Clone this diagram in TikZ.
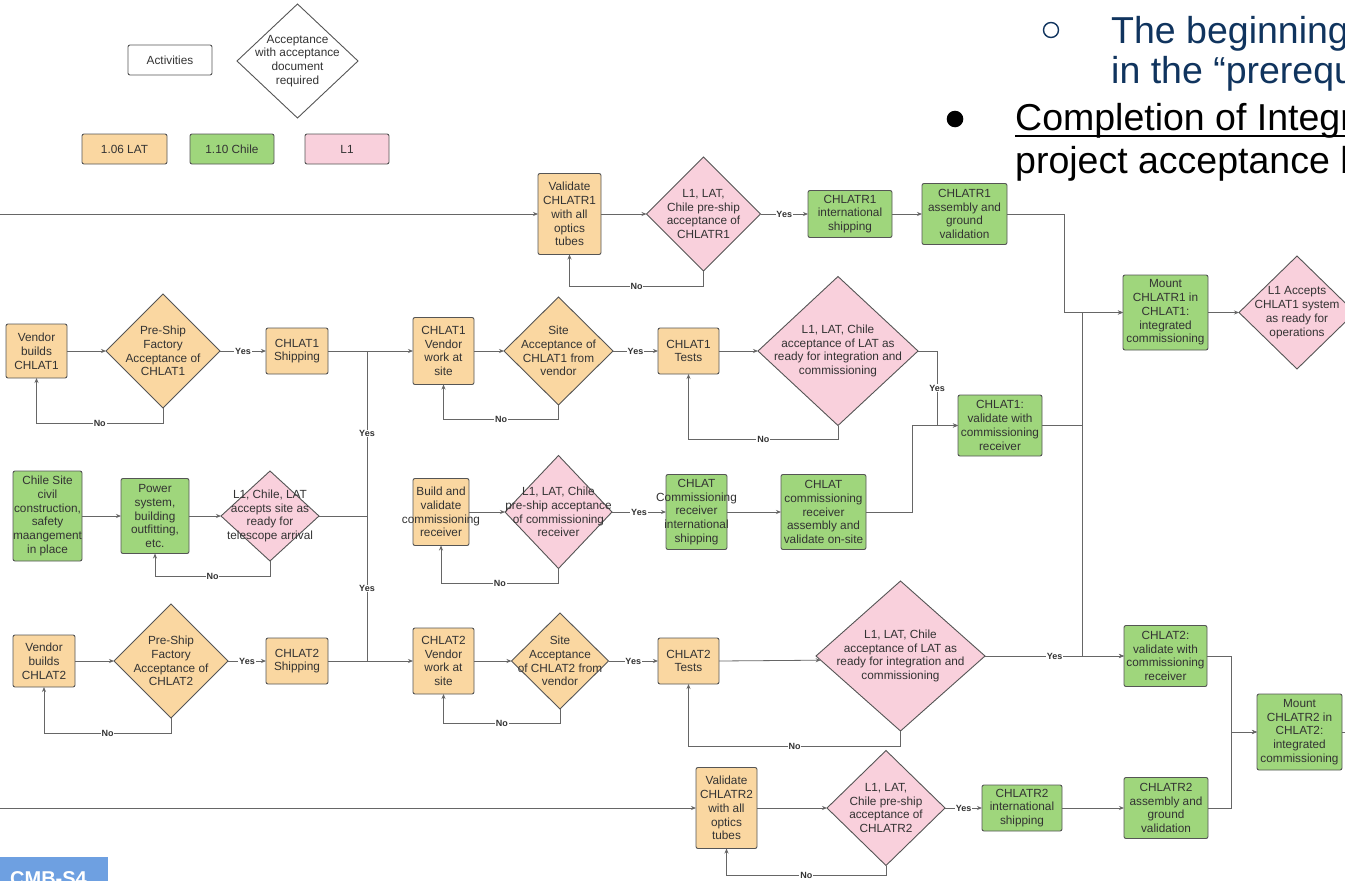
\documentclass[tikz,border=0pt]{standalone}
\usepackage{fontspec}
\setmainfont{Liberation Sans}
\usetikzlibrary{shapes.geometric,arrows.meta}
\definecolor{ornc}{HTML}{FAD7A1}
\definecolor{grnc}{HTML}{9FD67C}
\definecolor{pnkc}{HTML}{F9D0DC}
\definecolor{bordc}{HTML}{555555}
\definecolor{linc}{HTML}{666666}
\definecolor{txtc}{HTML}{333333}
\definecolor{navyc}{RGB}{16,52,94}
\definecolor{logoc}{RGB}{110,160,225}
\begin{document}
\begin{tikzpicture}[x=1pt,y=-1pt,
  shp/.style={draw=bordc, line width=0.9pt, inner sep=0pt, outer sep=0pt},
  rb/.style={shp, rectangle, rounded corners=2pt},
  dm/.style={shp, diamond},
  tx/.style={font=\fontsize{11.8}{13.8}\selectfont, text=txtc, align=center, inner sep=0pt},
  wh/.style 2 args={minimum width=#1, minimum height=#2},
  orn/.style={fill=ornc}, grn/.style={fill=grnc}, pnk/.style={fill=pnkc},
  ln/.style={draw=linc, line width=0.8pt},
  arr/.style={ln, -{Stealth[length=5pt,width=4pt]}},
  lb/.style={fill=white, inner sep=0.8pt, font=\fontsize{9}{10}\selectfont\bfseries, text=txtc},
  slide/.style={anchor=base west, inner sep=0pt, font=\fontsize{37.5}{40}\selectfont}
]
\useasboundingbox (0,0) rectangle (1345,881);
\clip (0,0) rectangle (1345,881);
\fill[white] (0,0) rectangle (1345,881);

% ---------- slide text ----------
\draw[navyc, line width=1.4pt] (1051,30) circle (7.5);
\node[slide, text=navyc] (s1) at (1111,43) {The beginning};
\node[slide, text=navyc] (s2) at (1111,83) {in the “prerequ};
\fill[black] (955,119) circle (8.3);
\node[slide, text=black] (s3) at (1015,130) {Completion of Integr};
\draw[black, line width=2pt] (1015,135.5) -- (1345,135.5);
\node[slide, text=black] (s4) at (1015,173) {project acceptance b};

% ---------- logo ----------
\fill[logoc] (0,857) rectangle (108,881);
\node[anchor=base west, inner sep=0pt, text=white, font=\fontsize{20}{22}\selectfont\bfseries] (logo) at (10,885) {CMB-S4};

% ---------- legend ----------
\node[rb, fill=white, wh={84}{30}, label={[tx]center:Activities}] (act) at (170,60) {};
\node[dm, fill=white, wh={121}{114}, label={[tx]center:{Acceptance\\with acceptance\\document\\required}}] (accd) at (297.5,61) {};
\node[rb, orn, wh={85}{30}, label={[tx]center:1.06 LAT}] (lg1) at (124.5,149) {};
\node[rb, grn, wh={84}{30}, label={[tx]center:1.10 Chile}] (lg2) at (232,149) {};
\node[rb, pnk, wh={84}{30}, label={[tx]center:L1}] (lg3) at (347,149) {};

% ---------- CHLATR1 row ----------
\node[rb, orn, wh={63}{81}, label={[tx]center:{Validate\\CHLATR1\\with all\\optics\\tubes}}] (vr1) at (569.5,214) {};
\node[dm, pnk, wh={114}{114}, label={[tx]center:{L1, LAT,\\Chile pre-ship\\acceptance of\\CHLATR1}}] (dr1) at (703.5,214) {};
\node[rb, grn, wh={84}{47}, label={[tx]center:{CHLATR1\\international\\shipping}}] (sr1) at (850,214) {};
\node[rb, grn, wh={85}{61}, label={[tx]center:{CHLATR1\\assembly and\\ground\\validation}}] (ar1) at (964.5,214) {};
\node[rb, grn, wh={85}{75}, label={[tx]center:{Mount\\CHLATR1 in\\CHLAT1:\\integrated\\commissioning}}] (mr1) at (1165.5,312.5) {};
\node[dm, pnk, wh={116}{113}, label={[tx]center:{L1 Accepts\\CHLAT1 system\\as ready for\\operations}}] (ops) at (1297,312.5) {};

% ---------- CHLAT1 row ----------
\node[rb, orn, wh={61}{54}, label={[tx]center:{Vendor\\builds\\CHLAT1}}] (vb1) at (36.5,351) {};
\node[dm, orn, wh={114}{114}, label={[tx]center:{Pre-Ship\\Factory\\Acceptance of\\CHLAT1}}] (pf1) at (163,351) {};
\node[rb, orn, wh={62}{46}, label={[tx]center:{CHLAT1\\Shipping}}] (sh1) at (297,351) {};
\node[rb, orn, wh={61}{67}, label={[tx]center:{CHLAT1\\Vendor\\work at\\site}}] (vw1) at (443.5,351) {};
\node[dm, orn, wh={109}{108}, label={[tx]center:{Site\\Acceptance of\\CHLAT1 from\\vendor}}] (sa1) at (558.5,351) {};
\node[rb, orn, wh={61}{46}, label={[tx]center:{CHLAT1\\Tests}}] (ts1) at (688.5,351) {};
\node[dm, pnk, wh={160}{149}, label={[tx]center:{L1, LAT, Chile\\acceptance of LAT as\\ready for integration and\\commissioning}}] (la1) at (838,351) {};
\node[rb, grn, wh={84}{61}, label={[tx]center:{CHLAT1:\\validate with\\commissioning\\receiver}}] (cv1) at (1000,425.5) {};

% ---------- site row ----------
\node[rb, grn, wh={69}{90}, label={[tx]center:{Chile Site\\civil\\construction,\\safety\\maangement\\in place}}] (cs) at (47.5,516) {};
\node[rb, grn, wh={68}{75}, label={[tx]center:{Power\\system,\\building\\outfitting,\\etc.}}] (ps) at (155,516) {};
\node[dm, pnk, wh={98}{90}, label={[tx]center:{L1, Chile, LAT\\accepts site as\\ready for\\telescope arrival}}] (sd) at (270,516) {};

% ---------- commissioning receiver row ----------
\node[rb, orn, wh={56}{67}, label={[tx]center:{Build and\\validate\\commissioning\\receiver}}] (bv) at (441,512) {};
\node[dm, pnk, wh={107}{113}, label={[tx]center:{L1, LAT, Chile\\pre-ship acceptance\\of commissioning\\receiver}}] (cd) at (558.5,512) {};
\node[rb, grn, wh={61}{75}, label={[tx]center:{CHLAT\\Commissioning\\receiver\\international\\shipping}}] (cis) at (696.5,512) {};
\node[rb, grn, wh={85}{75}, label={[tx]center:{CHLAT\\commissioning\\receiver\\assembly and\\validate on-site}}] (cav) at (823.5,512) {};

% ---------- CHLAT2 row ----------
\node[rb, orn, wh={62}{52}, label={[tx]center:{Vendor\\builds\\CHLAT2}}] (vb2) at (44,661) {};
\node[dm, orn, wh={114}{114}, label={[tx]center:{Pre-Ship\\Factory\\Acceptance of\\CHLAT2}}] (pf2) at (171,661) {};
\node[rb, orn, wh={62}{46}, label={[tx]center:{CHLAT2\\Shipping}}] (sh2) at (297,661) {};
\node[rb, orn, wh={61}{66}, label={[tx]center:{CHLAT2\\Vendor\\work at\\site}}] (vw2) at (443.5,661) {};
\node[dm, orn, wh={97}{96}, label={[tx]center:{Site\\Acceptance\\of CHLAT2 from\\vendor}}] (sa2) at (560,661) {};
\node[rb, orn, wh={61}{46}, label={[tx]center:{CHLAT2\\Tests}}] (ts2) at (688.5,661) {};
\node[dm, pnk, wh={169}{150}, label={[tx]center:{L1, LAT, Chile\\acceptance of LAT as\\ready for integration and\\commissioning}}] (la2) at (900.5,656) {};
\node[rb, grn, wh={83}{61}, label={[tx]center:{CHLAT2:\\validate with\\commissioning\\receiver}}] (cv2) at (1165.5,656) {};
\node[rb, grn, wh={85}{76}, label={[tx]center:{Mount\\CHLATR2 in\\CHLAT2:\\integrated\\commissioning}}] (mr2) at (1299.5,732) {};

% ---------- CHLATR2 row ----------
\node[rb, orn, wh={61}{81}, label={[tx]center:{Validate\\CHLATR2\\with all\\optics\\tubes}}] (vr2) at (726.5,808) {};
\node[dm, pnk, wh={118}{115}, label={[tx]center:{L1, LAT,\\Chile pre-ship\\acceptance of\\CHLATR2}}] (dr2) at (886,808) {};
\node[rb, grn, wh={80}{46}, label={[tx]center:{CHLATR2\\international\\shipping}}] (sr2) at (1022,808) {};
\node[rb, grn, wh={84}{61}, label={[tx]center:{CHLATR2\\assembly and\\ground\\validation}}] (ar2) at (1166,808) {};

% ---------- free ends and junctions ----------
\coordinate (inR1) at (0,214);
\coordinate (inR2) at (0,808);
\coordinate (outR2) at (1345,732);
\coordinate (jy) at (367,516);
\coordinate (ju) at (367,351);
\coordinate (jd) at (367,661);
\coordinate (j1) at (1082.5,425.5);

% ---------- connectors: CHLATR1 ----------
\draw[arr] (inR1) -- (vr1.west);
\draw[arr] (vr1.east) -- (dr1.west);
\draw[arr] (dr1.south) -- ++(0,15) -| node[lb,pos=0.25]{No} (vr1.south);
\draw[arr] (dr1.east) -- node[lb]{Yes} (sr1.west);
\draw[arr] (sr1.east) -- (ar1.west);
\draw[arr] (ar1.east) -- ++(57,0) |- (mr1.west);
\draw[arr] (mr1.east) -- (ops.west);

% ---------- connectors: CHLAT1 ----------
\draw[arr] (vb1.east) -- (pf1.west);
\draw[arr] (pf1.south) -- ++(0,15) -| node[lb,pos=0.25]{No} (vb1.south);
\draw[arr] (pf1.east) -- node[lb]{Yes} (sh1.west);
\draw[arr] (sh1.east) -- (vw1.west);
\draw[arr] (vw1.east) -- (sa1.west);
\draw[arr] (sa1.south) -- ++(0,14) -| node[lb,pos=0.25]{No} (vw1.south);
\draw[arr] (sa1.east) -- node[lb]{Yes} (ts1.west);
\draw[arr] (ts1.east) -- (la1.west);
\draw[arr] (la1.south) -- ++(0,14) -| node[lb,pos=0.25]{No} (ts1.south);
\draw[arr] (la1.east) -- ++(19,0) |- node[lb,pos=0.25]{Yes} (cv1.west);
\draw[arr] (cav.east) -- ++(46,0) |- (cv1.west);
\draw[ln] (cv1.east) -- (j1);
\draw[arr] (j1) |- (mr1.west);
\draw[arr] (j1) |- (cv2.west);

% ---------- connectors: site ----------
\draw[arr] (cs.east) -- (ps.west);
\draw[arr] (ps.east) -- (sd.west);
\draw[arr] (sd.south) -- ++(0,15) -| node[lb,pos=0.25]{No} (ps.south);
\draw[ln] (sd.east) -- (jy);
\draw[ln] (jy) -- node[lb]{Yes} (ju);
\draw[ln] (jy) -- node[lb]{Yes} (jd);

% ---------- connectors: commissioning receiver ----------
\draw[arr] (bv.east) -- (cd.west);
\draw[arr] (cd.south) -- ++(0,15) -| node[lb,pos=0.25]{No} (bv.south);
\draw[arr] (cd.east) -- node[lb]{Yes} (cis.west);
\draw[arr] (cis.east) -- (cav.west);

% ---------- connectors: CHLAT2 ----------
\draw[arr] (vb2.east) -- (pf2.west);
\draw[arr] (pf2.south) -- ++(0,15) -| node[lb,pos=0.25]{No} (vb2.south);
\draw[arr] (pf2.east) -- node[lb]{Yes} (sh2.west);
\draw[arr] (sh2.east) -- (vw2.west);
\draw[arr] (vw2.east) -- (sa2.west);
\draw[arr] (sa2.south) -- ++(0,14) -| node[lb,pos=0.25]{No} (vw2.south);
\draw[arr] (sa2.east) -- node[lb]{Yes} (ts2.west);
\draw[arr] (ts2.east) -- (la2.183.6);
\draw[arr] (la2.south) -- ++(0,15) -| node[lb,pos=0.25]{No} (ts2.south);
\draw[arr] (la2.east) -- node[lb]{Yes} (cv2.west);
\draw[arr] (cv2.east) -- ++(24,0) |- (mr2.west);
\draw[arr] (ar2.east) -- ++(23,0) |- (mr2.west);
\draw[ln] (mr2.east) -- (outR2);

% ---------- connectors: CHLATR2 ----------
\draw[arr] (inR2) -- (vr2.west);
\draw[arr] (vr2.east) -- (dr2.west);
\draw[arr] (dr2.south) -- ++(0,10) -| node[lb,pos=0.25]{No} (vr2.south);
\draw[arr] (dr2.east) -- node[lb]{Yes} (sr2.west);
\draw[arr] (sr2.east) -- (ar2.west);
\end{tikzpicture}
\end{document}
